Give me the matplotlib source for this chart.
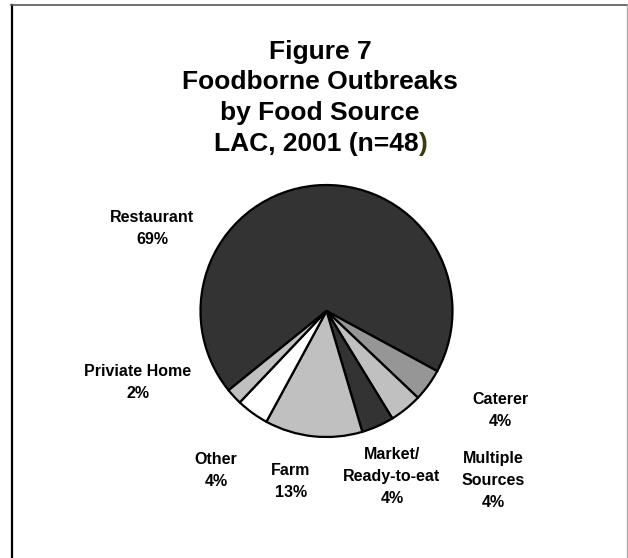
import matplotlib
matplotlib.use("Agg")
import matplotlib.pyplot as plt
from matplotlib.lines import Line2D

# ---- data ----
categories = ["Restaurant", "Caterer", "Multiple\nSources", "Market/\nReady-to-eat",
              "Farm", "Other", "Priviate Home"]
counts = [33, 2, 2, 2, 6, 2, 1]          # n = 48
pct_labels = ["69%", "4%", "4%", "4%", "13%", "4%", "2%"]
colors = ["#333333", "#969696", "#c0c0c0", "#333333", "#c0c0c0", "#ffffff", "#c0c0c0"]
title_lines = ["Figure 7", "Foodborne Outbreaks", "by Food Source", "LAC, 2001 (n=48"]

W, H = 628, 558
DPI = 100
fig = plt.figure(figsize=(W / DPI, H / DPI), dpi=DPI)
fig.patch.set_facecolor("white")
plt.rcParams["font.family"] = ["Liberation Sans", "DejaVu Sans"]

def fx(px):
    return px / W

def fy(py):
    return 1 - py / H

# pie placement (pixels)
cx, cy, r = 326.5, 311.0, 126.0
ax = fig.add_axes([fx(cx - r), fy(cy + r), 2 * r / W, 2 * r / H])
wedges, _ = ax.pie(counts, colors=colors, startangle=219, counterclock=False,
                   radius=1.0, wedgeprops=dict(edgecolor="black", linewidth=1.6))
for w in wedges:
    w.set_clip_on(False)
ax.set_xlim(-1, 1)
ax.set_ylim(-1, 1)
ax.axis("off")

# label positions (pixel x centre, baseline y of first line)
label_pos = [(152, 222), (500, 404), (493, 463), (392, 459), (291, 475), (216, 464), (138, 376)]
line_h = 22.0
for cat, pct, (lx, ly) in zip(categories, pct_labels, label_pos):
    lines = cat.split("\n") + [pct]
    for i, t in enumerate(lines):
        fig.text(fx(lx), fy(ly + i * line_h), t, ha="center", va="baseline",
                 fontsize=11.5, fontweight="bold", color="black")

# title (baselines)
title_y = [59, 89.5, 120, 150.5]
tfs = 19
for t, y in zip(title_lines[:3], title_y[:3]):
    fig.text(fx(320), fy(y), t, ha="center", va="baseline", fontsize=tfs,
             fontweight="bold", color="black")
last = fig.text(fx(214), fy(title_y[3]), title_lines[3], ha="left", va="baseline",
                fontsize=tfs, fontweight="bold", color="black")
renderer = fig.canvas.get_renderer()
bb = last.get_window_extent(renderer=renderer)
fig.text(bb.x1 / W, fy(title_y[3]), ")", ha="left", va="baseline", fontsize=tfs,
         fontweight="bold", color="#3a3a10")

# frame (left, top, right; no bottom)
fig.add_artist(Line2D([fx(12), fx(12)], [fy(5), 0], color="black", linewidth=1.6,
                      transform=fig.transFigure))
fig.add_artist(Line2D([fx(11), fx(627)], [fy(5), fy(5)], color="#555555", linewidth=1.2,
                      transform=fig.transFigure))
fig.add_artist(Line2D([fx(627), fx(627)], [fy(5), 0], color="#aaaaaa", linewidth=1.0,
                      transform=fig.transFigure))

fig.savefig("out.png", dpi=DPI, facecolor="white")
